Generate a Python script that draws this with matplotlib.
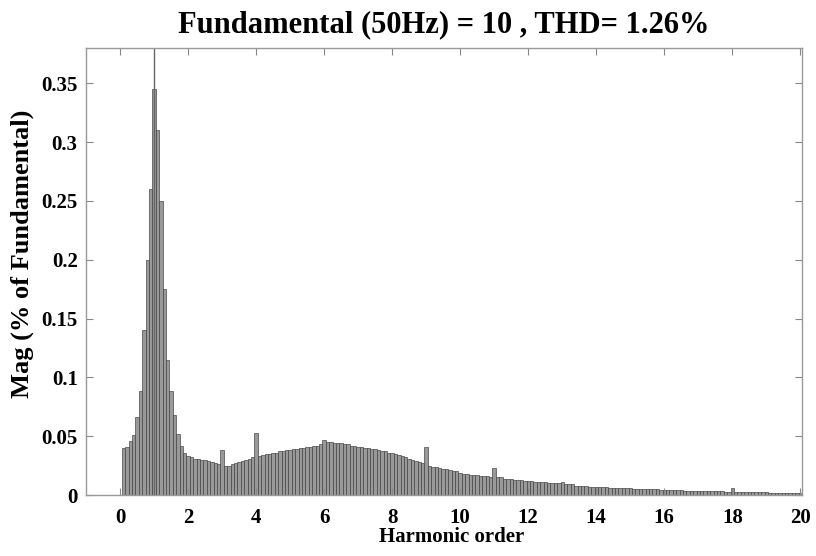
import matplotlib; matplotlib.use("Agg")
import matplotlib.pyplot as plt, numpy as np

# harmonic spectrum, 0.1-order resolution (50 Hz fundamental -> 5 Hz bins), % of fundamental
ORDER_STEP = 0.1
MAG = [
    0.040, 0.041, 0.046, 0.051, 0.066, 0.088, 0.140, 0.200, 0.260, 0.345,   # 0.1 - 1.0
    0.310, 0.250, 0.175, 0.115, 0.088, 0.068, 0.052, 0.042, 0.036, 0.033,   # 1.1 - 2.0
    0.032, 0.031, 0.031, 0.030, 0.030, 0.029, 0.028, 0.027, 0.026, 0.038,   # 2.1 - 3.0
    0.025, 0.025, 0.026, 0.027, 0.028, 0.029, 0.030, 0.031, 0.032, 0.053,   # 3.1 - 4.0
    0.033, 0.034, 0.035, 0.035, 0.036, 0.036, 0.037, 0.037, 0.038, 0.038,   # 4.1 - 5.0
    0.039, 0.039, 0.040, 0.040, 0.041, 0.041, 0.042, 0.042, 0.043, 0.047,   # 5.1 - 6.0
    0.045, 0.045, 0.044, 0.044, 0.044, 0.043, 0.043, 0.042, 0.042, 0.041,   # 6.1 - 7.0
    0.041, 0.040, 0.040, 0.039, 0.039, 0.038, 0.037, 0.037, 0.036, 0.036,   # 7.1 - 8.0
    0.035, 0.034, 0.033, 0.032, 0.031, 0.030, 0.029, 0.028, 0.027, 0.041,   # 8.1 - 9.0
    0.025, 0.024, 0.024, 0.023, 0.022, 0.022, 0.021, 0.020, 0.020, 0.019,   # 9.1 - 10.0
    0.018, 0.018, 0.017, 0.017, 0.017, 0.016, 0.016, 0.016, 0.015, 0.023,   # 10.1 - 11.0
    0.015, 0.015, 0.014, 0.014, 0.014, 0.013, 0.013, 0.013, 0.012, 0.012,   # 11.1 - 12.0
    0.012, 0.011, 0.011, 0.011, 0.011, 0.010, 0.010, 0.010, 0.010, 0.011,   # 12.1 - 13.0
    0.009, 0.009, 0.009, 0.008, 0.008, 0.008, 0.008, 0.007, 0.007, 0.007,   # 13.1 - 14.0
    0.0068, 0.0066, 0.0065, 0.0063, 0.0062, 0.0060, 0.0059, 0.0058, 0.0057, 0.0056,
    0.0055, 0.0054, 0.0053, 0.0052, 0.0051, 0.0049, 0.0048, 0.0047, 0.0046, 0.0045,
    0.0043, 0.0042, 0.0041, 0.0040, 0.0039, 0.0038, 0.0038, 0.0037, 0.0036, 0.0035,
    0.0034, 0.0033, 0.0033, 0.0032, 0.0031, 0.0030, 0.0030, 0.0029, 0.0028, 0.0060,
    0.0026, 0.0026, 0.0025, 0.0025, 0.0024, 0.0024, 0.0023, 0.0023, 0.0022, 0.0022,
    0.0021, 0.0021, 0.0020, 0.0020, 0.0019, 0.0019, 0.0018, 0.0018, 0.0017, 0.0017,
]
FUND_ORDER = 1
FUND_MAG = 100.0   # fundamental itself, clipped by the axis
XTICKS = [0, 2, 4, 6, 8, 10, 12, 14, 16, 18, 20]
YTICKS = [0, 0.05, 0.1, 0.15, 0.2, 0.25, 0.3, 0.35]
YTICKLABELS = ["0", "0.05", "0.1", "0.15", "0.2", "0.25", "0.3", "0.35"]

plt.rcParams["font.family"] = ["Liberation Serif", "DejaVu Serif"]
plt.rcParams["font.weight"] = "bold"

fig = plt.figure(figsize=(8.16, 5.56), dpi=100)
ax = fig.add_axes([0.1054, 0.1097, 0.8775, 0.804])

order = ORDER_STEP * np.arange(1, len(MAG) + 1)
ax.bar(order, MAG, width=ORDER_STEP, color="#999999", edgecolor="#3c3c3c", linewidth=0.45)
ax.vlines(FUND_ORDER, 0, FUND_MAG, color="#666666", linewidth=1.0)

ax.set_xlim(-1, 20.05); ax.set_ylim(0, 0.38)
ax.set_xticks(XTICKS); ax.set_yticks(YTICKS); ax.set_yticklabels(YTICKLABELS)
ax.tick_params(direction="in", top=True, right=True, length=5, color="#888888", labelsize=15)
ax.tick_params(axis="x", pad=9); ax.tick_params(axis="y", pad=6)
for s in ax.spines.values():
    s.set_color("#999999"); s.set_linewidth(1)
ax.set_xlabel("Harmonic order", fontsize=15, fontweight="bold", labelpad=0)
ax.xaxis.set_label_coords(0.51, -0.072)
ax.set_ylabel("Mag (% of Fundamental)", fontsize=19, fontweight="bold")
ax.yaxis.set_label_coords(-0.072, 0.54)
ax.set_title("Fundamental (50Hz) = 10 , THD= 1.26%", fontsize=22, fontweight="bold", pad=11)

plt.savefig("out.png", dpi=100)
print("saved out.png")
